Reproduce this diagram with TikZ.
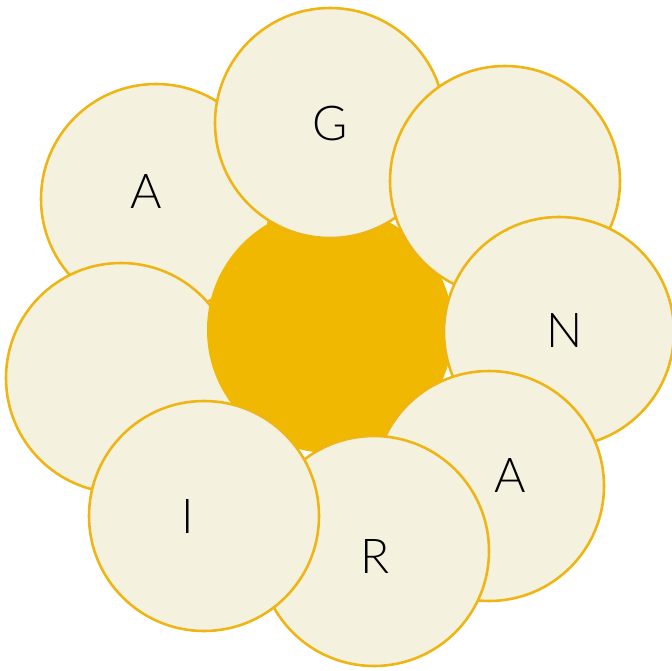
\documentclass[tikz,border=0pt]{standalone}
\usepackage{fontspec}
\setmainfont{Lato Light}
\usetikzlibrary{positioning}
\definecolor{hubgold}{HTML}{F0B800}
\definecolor{petalfill}{HTML}{F4F1DF}
\definecolor{petaledge}{HTML}{EEB514}

\begin{document}
\begin{tikzpicture}[x=0.03cm, y=-0.03cm,
  petal/.style={circle, draw=petaledge, fill=petalfill, line width=2.2pt, minimum size=6.9cm, inner sep=0pt},
  hub/.style={circle, fill=hubgold, minimum size=7.38cm, inner sep=0pt},
  letter/.style={anchor=base, inner sep=0pt, font=\fontsize{41}{41}\selectfont}
]
  \useasboundingbox (0,0) rectangle (672,670);

  % petals under the hub
  \node[petal] (pa) at (156,199) {};
  \node[petal] (pl) at (121,378) {};
  \node[hub] (hub) at (330,330) {};

  % petals over the hub
  \node[petal] (pg) at (330,123) {};
  \node[petal] (ptr) at (505,181) {};
  \node[petal] (pn) at (559,332) {};
  \node[petal] (pa2) at (489,486) {};
  \node[petal] (pr) at (374,551) {};
  \node[petal] (pi) at (204,516) {};

  \node[letter] (la) at (146,208) {A};
  \node[letter] (lg) at (330,140) {G};
  \node[letter] (ln) at (565,347) {N};
  \node[letter] (la2) at (510,492) {A};
  \node[letter] (lr) at (375,573) {R};
  \node[letter] (li) at (188,533) {I};
\end{tikzpicture}
\end{document}
